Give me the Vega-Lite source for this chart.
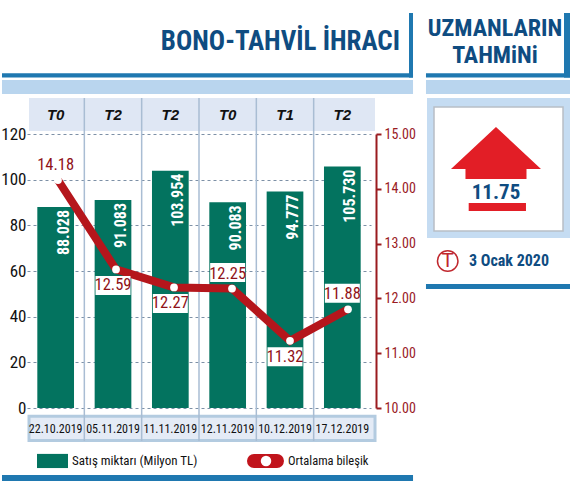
{"$schema":"https://vega.github.io/schema/vega-lite/v6.json","width":344,"height":274,"autosize":"none","padding":{"left":27,"top":134,"right":199,"bottom":73},"background":"white","config":{"view":{"stroke":null},"text":{"font":"\"Roboto Condensed\",\"Liberation Sans\""}},
"datasets":{"ihrac":[
{"tarih":"22.10.2019","vade":"T0","satis":88.028,"bilesik":14.18},
{"tarih":"05.11.2019","vade":"T2","satis":91.083,"bilesik":12.59},
{"tarih":"11.11.2019","vade":"T2","satis":103.954,"bilesik":12.27},
{"tarih":"12.11.2019","vade":"T0","satis":90.083,"bilesik":12.25},
{"tarih":"10.12.2019","vade":"T1","satis":94.777,"bilesik":11.32},
{"tarih":"17.12.2019","vade":"T2","satis":105.73,"bilesik":11.88}],
"tahmin":[{"tahmin":11.75,"tarih":"3 Ocak 2020"}]},
"data":{"values":[{}]},
"resolve":{"scale":{"x":"independent","y":"independent"}},
"layer":[
{"mark":{"type":"rect","color":"#1f78b0"},"encoding":{"x":{"datum":-0.436,"type":"quantitative","scale":{"domain":[0,6]},"axis":null},"x2":{"datum":6.733},"y":{"datum":146.6,"type":"quantitative","scale":{"domain":[0,120]},"axis":null},"y2":{"datum":144.7}}},
{"mark":{"type":"rect","color":"#1f78b0"},"encoding":{"x":{"datum":6.663,"type":"quantitative","scale":{"domain":[0,6]},"axis":null},"x2":{"datum":6.733},"y":{"datum":173,"type":"quantitative","scale":{"domain":[0,120]},"axis":null},"y2":{"datum":144.7}}},
{"mark":{"type":"rect","color":"#b9d5ee"},"encoding":{"x":{"datum":-0.436,"type":"quantitative","scale":{"domain":[0,6]},"axis":null},"x2":{"datum":6.733},"y":{"datum":143.7,"type":"quantitative","scale":{"domain":[0,120]},"axis":null},"y2":{"datum":137.5}}},
{"mark":{"type":"rect","color":"#1f78b0"},"encoding":{"x":{"datum":6.959,"type":"quantitative","scale":{"domain":[0,6]},"axis":null},"x2":{"datum":9.471},"y":{"datum":146.6,"type":"quantitative","scale":{"domain":[0,120]},"axis":null},"y2":{"datum":144.7}}},
{"mark":{"type":"rect","color":"#1f78b0"},"encoding":{"x":{"datum":9.366,"type":"quantitative","scale":{"domain":[0,6]},"axis":null},"x2":{"datum":9.471},"y":{"datum":173,"type":"quantitative","scale":{"domain":[0,120]},"axis":null},"y2":{"datum":144.7}}},
{"mark":{"type":"rect","color":"#b9d5ee"},"encoding":{"x":{"datum":6.959,"type":"quantitative","scale":{"domain":[0,6]},"axis":null},"x2":{"datum":9.471},"y":{"datum":143.7,"type":"quantitative","scale":{"domain":[0,120]},"axis":null},"y2":{"datum":137.5}}},
{"mark":{"type":"rect","color":"#c5dcf2"},"encoding":{"x":{"datum":6.977,"type":"quantitative","scale":{"domain":[0,6]},"axis":null},"x2":{"datum":9.471},"y":{"datum":135.8,"type":"quantitative","scale":{"domain":[0,120]},"axis":null},"y2":{"datum":74.5}}},
{"mark":{"type":"rect","color":"white","stroke":"#b8bec6","strokeWidth":1.5},"encoding":{"x":{"datum":7.099,"type":"quantitative","scale":{"domain":[0,6]},"axis":null},"x2":{"datum":9.349},"y":{"datum":131.8,"type":"quantitative","scale":{"domain":[0,120]},"axis":null},"y2":{"datum":77.5}}},
{"mark":{"type":"rect","color":"#1f78b0"},"encoding":{"x":{"datum":6.959,"type":"quantitative","scale":{"domain":[0,6]},"axis":null},"x2":{"datum":9.471},"y":{"datum":54.3,"type":"quantitative","scale":{"domain":[0,120]},"axis":null},"y2":{"datum":52.1}}},
{"mark":{"type":"rect","color":"#1f78b0"},"encoding":{"x":{"datum":-0.436,"type":"quantitative","scale":{"domain":[0,6]},"axis":null},"x2":{"datum":6.733},"y":{"datum":-29.3,"type":"quantitative","scale":{"domain":[0,120]},"axis":null},"y2":{"datum":-32}}},
{"mark":{"type":"rect","color":"#dfe7f4"},"encoding":{"x":{"datum":0.035,"type":"quantitative","scale":{"domain":[0,6]},"axis":null},"x2":{"datum":6.07},"y":{"datum":135.8,"type":"quantitative","scale":{"domain":[0,120]},"axis":null},"y2":{"datum":121.3}}},
{"mark":{"type":"rect","color":"#e4ebf6","stroke":"#b3cbe0","strokeWidth":3},"encoding":{"x":{"datum":0.035,"type":"quantitative","scale":{"domain":[0,6]},"axis":null},"x2":{"datum":6.07},"y":{"datum":-3.6,"type":"quantitative","scale":{"domain":[0,120]},"axis":null},"y2":{"datum":-14.2}}},
{"data":{"name":"ihrac"},"mark":{"type":"bar","color":"#03735f","width":{"band":0.64}},"encoding":{"x":{"field":"tarih","type":"nominal","sort":null,"scale":{"type":"band","padding":0},"axis":null},"y":{"field":"satis","type":"quantitative","scale":{"domain":[0,120]},"axis":{"values":[0,20,40,60,80,100,120],"title":null,"domain":false,"ticks":false,"labelPadding":1,"labelFont":"\"Roboto Condensed\",\"Liberation Sans\"","labelFontSize":17,"labelColor":"#111111","grid":true,"gridColor":"#7d90a6","gridDash":[3,3],"gridWidth":1}}}},
{"data":{"name":"ihrac"},"transform":[{"filter":"datum.tarih !== '22.10.2019'"}],"mark":{"type":"rule","color":"#a9bdd3","strokeWidth":1.5},"encoding":{"x":{"field":"tarih","type":"nominal","sort":null,"bandPosition":0,"scale":{"type":"band","padding":0,"domain":["22.10.2019","05.11.2019","11.11.2019","12.11.2019","10.12.2019","17.12.2019"]},"axis":null},"y":{"datum":135.8,"type":"quantitative","scale":{"domain":[0,120]},"axis":null},"y2":{"datum":-14.5}}},
{"data":{"name":"ihrac"},"mark":{"type":"text","color":"white","angle":270,"align":"right","baseline":"middle","fontSize":16,"fontWeight":"bold","xOffset":8,"yOffset":3},"encoding":{"x":{"field":"tarih","type":"nominal","sort":null,"scale":{"type":"band","padding":0},"axis":null},"y":{"field":"satis","type":"quantitative","scale":{"domain":[0,120]},"axis":null},"text":{"field":"satis","type":"quantitative","format":".3f"}}},
{"data":{"name":"ihrac"},"mark":{"type":"text","color":"#111111","fontSize":15,"font":"Liberation Sans","fontStyle":"italic","fontWeight":"bold"},"encoding":{"x":{"field":"tarih","type":"nominal","sort":null,"scale":{"type":"band","padding":0},"axis":null},"y":{"datum":128.5,"type":"quantitative","scale":{"domain":[0,120]},"axis":null},"text":{"field":"vade"}}},
{"data":{"name":"ihrac"},"mark":{"type":"text","color":"#111111","fontSize":12},"encoding":{"x":{"field":"tarih","type":"nominal","sort":null,"scale":{"type":"band","padding":0},"axis":null},"y":{"datum":-9,"type":"quantitative","scale":{"domain":[0,120]},"axis":null},"text":{"field":"tarih"}}},
{"data":{"name":"ihrac"},"mark":{"type":"line","opacity":0},"encoding":{"x":{"field":"tarih","type":"nominal","sort":null,"axis":null},"y":{"field":"bilesik","type":"quantitative","scale":{"domain":[10,15]},"axis":{"orient":"right","offset":5,"values":[10,11,12,13,14,15],"format":".2f","title":null,"grid":false,"domainColor":"#9a1b1f","domainWidth":2,"tickColor":"#9a1b1f","tickWidth":2,"tickSize":5,"labelPadding":3,"labelFont":"\"Roboto Condensed\",\"Liberation Sans\"","labelFontSize":14,"labelColor":"#9a1b1f"}}}},
{"data":{"name":"ihrac"},"mark":{"type":"line","color":"#b5161c","strokeWidth":8},"encoding":{"x":{"field":"tarih","type":"nominal","sort":null,"scale":{"type":"point","padding":0.5,"range":[2,350]},"axis":null},"y":{"field":"bilesik","type":"quantitative","scale":{"domain":[10,15],"range":[281,0]},"axis":null}}},
{"data":{"name":"ihrac"},"mark":{"type":"point","filled":true,"color":"white","opacity":1,"size":60},"encoding":{"x":{"field":"tarih","type":"nominal","sort":null,"scale":{"type":"point","padding":0.5,"range":[2,350]},"axis":null},"y":{"field":"bilesik","type":"quantitative","scale":{"domain":[10,15],"range":[281,0]},"axis":null}}},
{"data":{"name":"ihrac"},"transform":[{"filter":{"field":"tarih","oneOf":["12.11.2019","17.12.2019"]}}],"mark":{"type":"point","filled":true,"color":"white","opacity":1,"size":1225,"shape":"M-1,-1.457H1V-0.371H-1Z"},"encoding":{"x":{"field":"tarih","type":"nominal","sort":null,"scale":{"type":"band","padding":0,"domain":["22.10.2019","05.11.2019","11.11.2019","12.11.2019","10.12.2019","17.12.2019"]},"axis":null},"y":{"field":"bilesik","type":"quantitative","scale":{"domain":[10,15],"range":[281,0]},"axis":null}}},
{"data":{"name":"ihrac"},"transform":[{"filter":{"field":"tarih","oneOf":["05.11.2019","11.11.2019","10.12.2019"]}}],"mark":{"type":"point","filled":true,"color":"white","opacity":1,"size":1225,"shape":"M-1,0.371H1V1.457H-1Z"},"encoding":{"x":{"field":"tarih","type":"nominal","sort":null,"scale":{"type":"band","padding":0,"domain":["22.10.2019","05.11.2019","11.11.2019","12.11.2019","10.12.2019","17.12.2019"]},"axis":null},"y":{"field":"bilesik","type":"quantitative","scale":{"domain":[10,15],"range":[281,0]},"axis":null}}},
{"data":{"name":"ihrac"},"transform":[{"filter":{"field":"tarih","oneOf":["22.10.2019","12.11.2019","17.12.2019"]}}],"mark":{"type":"text","color":"#8f1218","fontSize":16.5,"dy":-15},"encoding":{"x":{"field":"tarih","type":"nominal","sort":null,"scale":{"type":"band","padding":0,"domain":["22.10.2019","05.11.2019","11.11.2019","12.11.2019","10.12.2019","17.12.2019"]},"axis":null},"y":{"field":"bilesik","type":"quantitative","scale":{"domain":[10,15],"range":[281,0]},"axis":null},"text":{"field":"bilesik","type":"quantitative","format":".2f"}}},
{"data":{"name":"ihrac"},"transform":[{"filter":{"field":"tarih","oneOf":["05.11.2019","11.11.2019","10.12.2019"]}}],"mark":{"type":"text","color":"#8f1218","fontSize":16.5,"dy":16},"encoding":{"x":{"field":"tarih","type":"nominal","sort":null,"scale":{"type":"band","padding":0,"domain":["22.10.2019","05.11.2019","11.11.2019","12.11.2019","10.12.2019","17.12.2019"]},"axis":null},"y":{"field":"bilesik","type":"quantitative","scale":{"domain":[10,15],"range":[281,0]},"axis":null},"text":{"field":"bilesik","type":"quantitative","format":".2f"}}},
{"mark":{"type":"text","text":"BONO-TAHVİL İHRACI","color":"#0f4c81","fontSize":27,"fontWeight":"bold","align":"right"},"encoding":{"x":{"datum":6.506,"type":"quantitative","scale":{"domain":[0,6]},"axis":null},"y":{"datum":160.1,"type":"quantitative","scale":{"domain":[0,120]},"axis":null}}},
{"mark":{"type":"text","text":"UZMANLARIN","color":"#0f4c81","fontSize":24,"fontWeight":"bold"},"encoding":{"x":{"datum":8.163,"type":"quantitative","scale":{"domain":[0,6]},"axis":null},"y":{"datum":166,"type":"quantitative","scale":{"domain":[0,120]},"axis":null}}},
{"mark":{"type":"text","text":"TAHMiNi","color":"#0f4c81","fontSize":24,"fontWeight":"bold"},"encoding":{"x":{"datum":8.163,"type":"quantitative","scale":{"domain":[0,6]},"axis":null},"y":{"datum":154.2,"type":"quantitative","scale":{"domain":[0,120]},"axis":null}}},
{"mark":{"type":"point","filled":true,"color":"#e21e26","opacity":1,"size":8100,"shape":"M0,-0.578L1,0.356L0.678,0.356L0.678,0.578L-0.678,0.578L-0.678,0.356L-1,0.356Z"},"encoding":{"x":{"datum":8.18,"type":"quantitative","scale":{"domain":[0,6]},"axis":null},"y":{"datum":111.7,"type":"quantitative","scale":{"domain":[0,120]},"axis":null}}},
{"data":{"name":"tahmin"},"mark":{"type":"text","color":"#0f4c81","fontSize":21,"fontWeight":"bold"},"encoding":{"x":{"datum":8.18,"type":"quantitative","scale":{"domain":[0,6]},"axis":null},"y":{"datum":94.2,"type":"quantitative","scale":{"domain":[0,120]},"axis":null},"text":{"field":"tahmin","type":"quantitative","format":".2f"}}},
{"mark":{"type":"rect","color":"#e21e26"},"encoding":{"x":{"datum":7.704,"type":"quantitative","scale":{"domain":[0,6]},"axis":null},"x2":{"datum":8.703},"y":{"datum":89.8,"type":"quantitative","scale":{"domain":[0,120]},"axis":null},"y2":{"datum":86.3}}},
{"mark":{"type":"point","color":"#c0272d","strokeWidth":1.5,"opacity":1,"size":420,"shape":"circle"},"encoding":{"x":{"datum":7.338,"type":"quantitative","scale":{"domain":[0,6]},"axis":null},"y":{"datum":64.4,"type":"quantitative","scale":{"domain":[0,120]},"axis":null}}},
{"mark":{"type":"text","text":"T","color":"#c0272d","fontSize":20,"font":"Liberation Sans"},"encoding":{"x":{"datum":7.338,"type":"quantitative","scale":{"domain":[0,6]},"axis":null},"y":{"datum":64.4,"type":"quantitative","scale":{"domain":[0,120]},"axis":null}}},
{"data":{"name":"tahmin"},"mark":{"type":"text","color":"#0f4c81","fontSize":16,"fontWeight":"bold","align":"left"},"encoding":{"x":{"datum":7.709,"type":"quantitative","scale":{"domain":[0,6]},"axis":null},"y":{"datum":64.4,"type":"quantitative","scale":{"domain":[0,120]},"axis":null},"text":{"field":"tarih"}}},
{"mark":{"type":"rect","color":"#03735f"},"encoding":{"x":{"datum":0.174,"type":"quantitative","scale":{"domain":[0,6]},"axis":null},"x2":{"datum":0.715},"y":{"datum":-20.1,"type":"quantitative","scale":{"domain":[0,120]},"axis":null},"y2":{"datum":-26.3}}},
{"mark":{"type":"text","text":"Satış miktarı (Milyon TL)","color":"#111111","fontSize":13,"align":"left"},"encoding":{"x":{"datum":0.785,"type":"quantitative","scale":{"domain":[0,6]},"axis":null},"y":{"datum":-23.2,"type":"quantitative","scale":{"domain":[0,120]},"axis":null}}},
{"mark":{"type":"rule","color":"#c1141c","strokeWidth":14,"strokeCap":"round"},"encoding":{"x":{"datum":3.959,"type":"quantitative","scale":{"domain":[0,6]},"axis":null},"x2":{"datum":4.36},"y":{"datum":-23.2,"type":"quantitative","scale":{"domain":[0,120]},"axis":null}}},
{"mark":{"type":"point","filled":true,"color":"white","opacity":1,"size":110},"encoding":{"x":{"datum":4.169,"type":"quantitative","scale":{"domain":[0,6]},"axis":null},"y":{"datum":-23.2,"type":"quantitative","scale":{"domain":[0,120]},"axis":null}}},
{"mark":{"type":"text","text":"Ortalama bileşik","color":"#111111","fontSize":12.5,"align":"left"},"encoding":{"x":{"datum":4.552,"type":"quantitative","scale":{"domain":[0,6]},"axis":null},"y":{"datum":-23.2,"type":"quantitative","scale":{"domain":[0,120]},"axis":null}}}
]}
